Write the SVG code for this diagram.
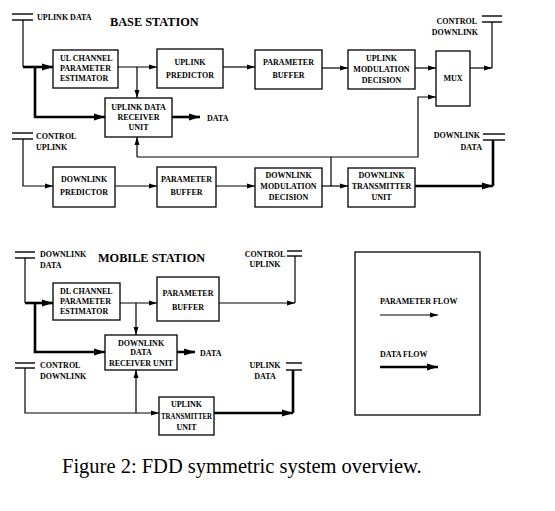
<svg xmlns="http://www.w3.org/2000/svg" width="555" height="511" viewBox="0 0 555 511">
<style>
.bx{fill:#fff;stroke:#000;stroke-width:1.3}
.t{font-family:"Liberation Serif",serif;font-weight:bold;font-size:8px;fill:#000}
.c{text-anchor:middle}
.e{text-anchor:end}
.h{font-family:"Liberation Serif",serif;font-weight:bold;font-size:12.3px;fill:#000}
.cap{font-family:"Liberation Serif",serif;font-size:20.5px;fill:#000}
.ln{fill:none;stroke:#000;stroke-width:1.2}
.th{fill:none;stroke:#000;stroke-width:2.6}
.ant{stroke:#000;stroke-width:1.4}
</style>
<defs>
<marker id="a" markerWidth="8" markerHeight="6" refX="8" refY="3" orient="auto" markerUnits="userSpaceOnUse"><path d="M0,0.5 L8,3 L0,5.5 z"/></marker>
<marker id="A" markerWidth="11" markerHeight="8" refX="11" refY="4" orient="auto" markerUnits="userSpaceOnUse"><path d="M0,0.5 L11,4 L0,7.5 z"/></marker>
</defs>
<rect width="555" height="511" fill="#fff"/>

<g id="titles">
<text class="h" x="110" y="26">BASE STATION</text>
<text class="h" x="98" y="262">MOBILE STATION</text>
<text class="cap" x="62" y="473">Figure 2: FDD symmetric system overview.</text>
</g>

<g id="connectors">
<!-- base station -->
<path class="ln" d="M23,20 V67"/>
<path class="th" d="M23,67 H53" marker-end="url(#A)"/>
<path class="th" d="M35,67 V117 H105" marker-end="url(#A)"/>
<path class="ln" d="M118,67 H157" marker-end="url(#a)"/>
<path class="ln" d="M137,67 V98" marker-end="url(#a)"/>
<path class="ln" d="M223,67 H255" marker-end="url(#a)"/>
<path class="ln" d="M322,68 H348" marker-end="url(#a)"/>
<path class="ln" d="M415,68 H436" marker-end="url(#a)"/>
<path class="ln" d="M470,68 H492" marker-end="url(#a)"/>
<path class="ln" d="M492,68 V22"/>
<path class="th" d="M172,117 H200" marker-end="url(#A)"/>
<path class="ln" d="M137,157 V137" marker-end="url(#a)"/>
<path class="ln" d="M137,157 H418 V97 H436" marker-end="url(#a)"/>
<path class="ln" d="M331,157 V186"/>
<path class="ln" d="M23,139 V186 H53" marker-end="url(#a)"/>
<path class="ln" d="M115,186 H157" marker-end="url(#a)"/>
<path class="ln" d="M216,186 H255" marker-end="url(#a)"/>
<path class="ln" d="M322,186 H348" marker-end="url(#a)"/>
<path class="th" d="M415,186 H493" marker-end="url(#A)"/>
<path class="th" d="M493,186 V140"/>
<!-- mobile station -->
<path class="ln" d="M25,258 V303"/>
<path class="th" d="M25,303 H53" marker-end="url(#A)"/>
<path class="th" d="M35,303 V352 H105" marker-end="url(#A)"/>
<path class="ln" d="M120,303 H157" marker-end="url(#a)"/>
<path class="ln" d="M136,303 V335" marker-end="url(#a)"/>
<path class="ln" d="M219,303 H295" marker-end="url(#a)"/>
<path class="ln" d="M295,303 V256"/>
<path class="th" d="M177,352 H195" marker-end="url(#A)"/>
<path class="ln" d="M25,368 V413 H159" marker-end="url(#a)"/>
<path class="ln" d="M136,413 V370" marker-end="url(#a)"/>
<path class="th" d="M214,413 H293" marker-end="url(#A)"/>
<path class="th" d="M293,413 V370"/>
</g>

<g id="ant-uplink-data">
<line class="ant" x1="12" y1="14" x2="33" y2="14"/><line class="ant" x1="12" y1="20" x2="33" y2="20"/>
<text class="t" x="37" y="20">UPLINK DATA</text>
</g>
<g id="ant-control-downlink">
<line class="ant" x1="482" y1="16" x2="502" y2="16"/><line class="ant" x1="482" y1="22" x2="502" y2="22"/>
<text class="t e" x="477" y="24">CONTROL</text>
<text class="t e" x="478" y="35">DOWNLINK</text>
</g>
<g id="ant-control-uplink">
<line class="ant" x1="12" y1="133" x2="33" y2="133"/><line class="ant" x1="12" y1="139" x2="33" y2="139"/>
<text class="t" x="36" y="139">CONTROL</text>
<text class="t" x="36" y="150">UPLINK</text>
</g>
<g id="ant-downlink-data">
<line class="ant" x1="483" y1="134" x2="505" y2="134"/><line class="ant" x1="483" y1="140" x2="505" y2="140"/>
<text class="t e" x="480" y="138">DOWNLINK</text>
<text class="t e" x="482" y="150">DATA</text>
</g>

<g id="ul-channel-estimator">
<rect class="bx" x="53" y="50" width="65" height="38"/>
<text class="t" x="60" y="61">UL CHANNEL</text>
<text class="t" x="60" y="71">PARAMETER</text>
<text class="t" x="60" y="81">ESTIMATOR</text>
</g>
<g id="uplink-predictor">
<rect class="bx" x="157" y="49" width="66" height="39"/>
<text class="t c" x="190" y="65">UPLINK</text>
<text class="t c" x="190" y="78">PREDICTOR</text>
</g>
<g id="bs-parameter-buffer">
<rect class="bx" x="255" y="50" width="67" height="39"/>
<text class="t c" x="288.5" y="65">PARAMETER</text>
<text class="t c" x="288.5" y="78">BUFFER</text>
</g>
<g id="uplink-modulation-decision">
<rect class="bx" x="348" y="50" width="67" height="39"/>
<text class="t c" x="381.5" y="61">UPLINK</text>
<text class="t c" x="381.5" y="72">MODULATION</text>
<text class="t c" x="381.5" y="83">DECISION</text>
</g>
<g id="mux">
<rect class="bx" x="436" y="51" width="34" height="55"/>
<text class="t c" x="453" y="81">MUX</text>
</g>
<g id="uplink-data-receiver">
<rect class="bx" x="105" y="98" width="67" height="39"/>
<text class="t c" x="138.5" y="110">UPLINK DATA</text>
<text class="t c" x="138.5" y="120">RECEIVER</text>
<text class="t c" x="138.5" y="130">UNIT</text>
</g>
<g id="bs-data-out">
<text class="t" x="207" y="121">DATA</text>
</g>
<g id="downlink-predictor">
<rect class="bx" x="53" y="167" width="62" height="40"/>
<text class="t c" x="84" y="182">DOWNLINK</text>
<text class="t c" x="84" y="195">PREDICTOR</text>
</g>
<g id="bs-parameter-buffer-2">
<rect class="bx" x="157" y="167" width="59" height="40"/>
<text class="t c" x="186.5" y="182">PARAMETER</text>
<text class="t c" x="186.5" y="195">BUFFER</text>
</g>
<g id="downlink-modulation-decision">
<rect class="bx" x="255" y="168" width="67" height="39"/>
<text class="t c" x="288.5" y="178">DOWNLINK</text>
<text class="t c" x="288.5" y="189">MODULATION</text>
<text class="t c" x="288.5" y="200">DECISION</text>
</g>
<g id="downlink-transmitter">
<rect class="bx" x="348" y="168" width="67" height="39"/>
<text class="t c" x="381.5" y="178">DOWNLINK</text>
<text class="t c" x="381.5" y="189">TRANSMITTER</text>
<text class="t c" x="381.5" y="200">UNIT</text>
</g>

<g id="ant-ms-downlink-data">
<line class="ant" x1="15" y1="252" x2="35" y2="252"/><line class="ant" x1="15" y1="258" x2="35" y2="258"/>
<text class="t" x="40" y="257">DOWNLINK</text>
<text class="t" x="40" y="268">DATA</text>
</g>
<g id="ant-ms-control-uplink">
<line class="ant" x1="287" y1="251" x2="302" y2="251"/><line class="ant" x1="287" y1="256" x2="302" y2="256"/>
<text class="t c" x="265" y="257">CONTROL</text>
<text class="t c" x="265" y="267">UPLINK</text>
</g>
<g id="ant-ms-control-downlink">
<line class="ant" x1="15" y1="363" x2="35" y2="363"/><line class="ant" x1="15" y1="368" x2="35" y2="368"/>
<text class="t" x="40" y="368">CONTROL</text>
<text class="t" x="40" y="379">DOWNLINK</text>
</g>
<g id="ant-ms-uplink-data">
<line class="ant" x1="286" y1="363" x2="302" y2="363"/><line class="ant" x1="286" y1="370" x2="302" y2="370"/>
<text class="t c" x="265" y="368">UPLINK</text>
<text class="t c" x="265" y="379">DATA</text>
</g>

<g id="dl-channel-estimator">
<rect class="bx" x="53" y="283" width="67" height="37"/>
<text class="t" x="60" y="294">DL CHANNEL</text>
<text class="t" x="60" y="304">PARAMETER</text>
<text class="t" x="60" y="314">ESTIMATOR</text>
</g>
<g id="ms-parameter-buffer">
<rect class="bx" x="157" y="277" width="62" height="44"/>
<text class="t c" x="188" y="296">PARAMETER</text>
<text class="t c" x="188" y="310">BUFFER</text>
</g>
<g id="downlink-data-receiver">
<rect class="bx" x="105" y="335" width="72" height="35"/>
<text class="t c" x="141" y="346">DOWNLINK</text>
<text class="t c" x="141" y="355">DATA</text>
<text class="t c" x="141" y="366">RECEIVER UNIT</text>
</g>
<g id="ms-data-out">
<text class="t" x="200" y="356">DATA</text>
</g>
<g id="uplink-transmitter">
<rect class="bx" x="159" y="397" width="55" height="38"/>
<text class="t c" x="186.5" y="407">UPLINK</text>
<text class="t c" x="186.5" y="419" textLength="51" lengthAdjust="spacingAndGlyphs">TRANSMITTER</text>
<text class="t c" x="186.5" y="430">UNIT</text>
</g>

<g id="legend">
<rect class="bx" x="355" y="252" width="125" height="163"/>
<text class="t" x="380" y="304">PARAMETER FLOW</text>
<path class="ln" d="M380,315 H438" marker-end="url(#a)"/>
<text class="t" x="380" y="357">DATA FLOW</text>
<path class="th" d="M380,367 H438" marker-end="url(#A)"/>
</g>
</svg>
